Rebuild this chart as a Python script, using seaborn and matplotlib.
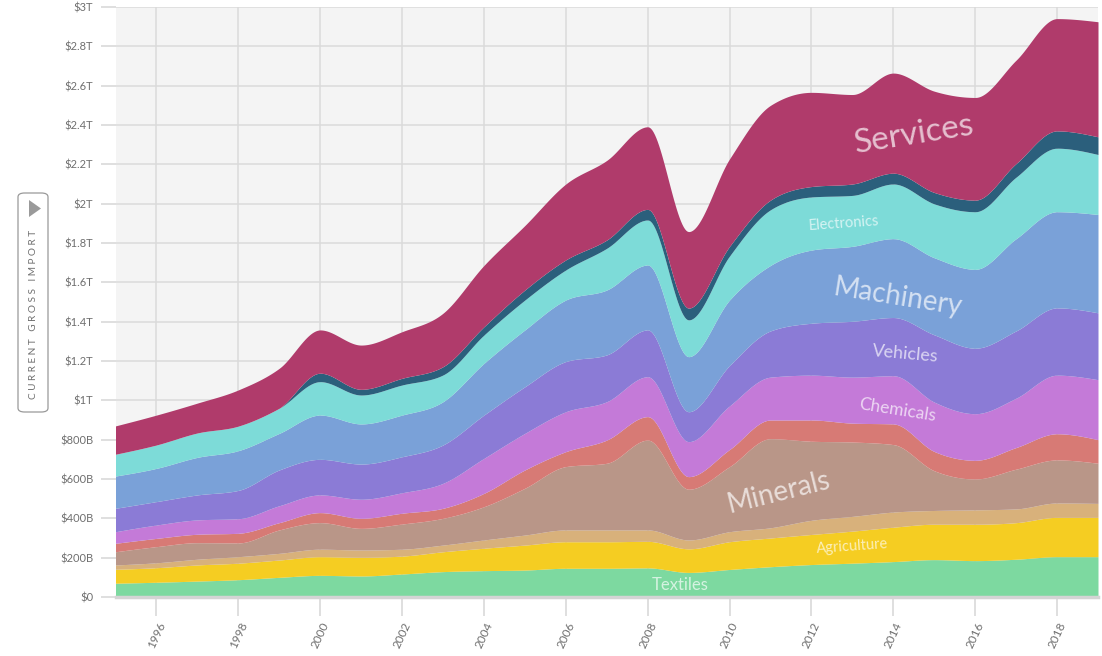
import numpy as np
import pandas as pd
import seaborn as sns
import matplotlib
matplotlib.use("Agg")
import matplotlib.pyplot as plt
from matplotlib.patches import FancyBboxPatch, Polygon

# yearly import values in billions of US$
years = list(range(1995, 2020))
textiles = [70, 75, 81, 88, 100, 110, 107, 117, 129, 134, 137, 146, 146, 148, 125,
            140, 154, 165, 172, 180, 190, 185, 192, 205, 205]
agriculture = [71, 74, 82, 84, 88, 95, 95, 91, 101, 114, 127, 135, 135, 135, 120,
               141, 146, 153, 163, 175, 180, 185, 186, 200, 200]
stone = [22, 25, 29, 33, 34, 38, 37, 35, 34, 42, 51, 60, 60, 58, 45,
         51, 52, 72, 75, 77, 70, 73, 70, 73, 71]
minerals = [67, 82, 84, 70, 119, 135, 110, 128, 136, 169, 238, 322, 339, 457, 258,
            331, 453, 402, 378, 343, 202, 157, 202, 219, 204]
metals = [43, 42, 43, 49, 37, 51, 51, 55, 51, 68, 93, 76, 118, 119, 64,
          87, 95, 108, 96, 105, 98, 95, 110, 133, 120]
chemicals = [59, 68, 73, 74, 86, 90, 97, 104, 127, 178, 186, 203, 195, 203, 178,
             222, 218, 228, 234, 245, 251, 237, 251, 298, 305]
vehicles = [119, 119, 127, 144, 182, 181, 179, 183, 195, 220, 237, 255, 238, 238, 152,
            205, 235, 264, 284, 296, 342, 333, 342, 342, 340]
machinery = [164, 169, 191, 202, 186, 225, 204, 212, 220, 263, 289, 313, 330, 330, 280,
             333, 333, 372, 381, 401, 392, 401, 469, 489, 500]
electronics = [111, 119, 124, 125, 128, 170, 147, 153, 136, 144, 152, 153, 212, 229, 187,
               224, 283, 270, 259, 278, 274, 293, 313, 323, 305]
other = [0, 0, 0, 0, 0, 43, 29, 34, 42, 42, 51, 51, 42, 54, 60,
         49, 49, 53, 58, 55, 58, 59, 69, 88, 90]
services = [144, 152, 152, 184, 203, 220, 225, 237, 272, 312, 328, 386, 405, 420, 389,
            445, 482, 479, 455, 509, 515, 522, 526, 571, 585]

sectors = ["Textiles", "Agriculture", "Stone", "Minerals", "Metals", "Chemicals",
           "Vehicles", "Machinery", "Electronics", "Other", "Services"]
sector_colors = ["#7dd9a0", "#f5cd22", "#d8b17b", "#b99688", "#d77a75", "#c47ad8",
                 "#8b7bd6", "#7aa1d8", "#7ddbd8", "#2b5f7c", "#b03b6b"]

y_ticks = [0, 200, 400, 600, 800, 1000, 1200, 1400, 1600, 1800, 2000, 2200, 2400,
           2600, 2800, 3000]
y_tick_labels = ["$0", "$200B", "$400B", "$600B", "$800B", "$1T", "$1.2T", "$1.4T",
                 "$1.6T", "$1.8T", "$2T", "$2.2T", "$2.4T", "$2.6T", "$2.8T", "$3T"]
x_ticks = list(range(1996, 2019, 2))

# in-area labels: name, year, value, rotation, size
area_labels = [
    ("Services", 2014.5, 2350, 9, 24),
    ("Electronics", 2012.8, 1897, 4, 10.5),
    ("Machinery", 2014.1, 1526, -9, 20),
    ("Vehicles", 2014.3, 1236, -5, 13),
    ("Chemicals", 2014.1, 951, -9, 12.5),
    ("Minerals", 2011.2, 529, 14, 20),
    ("Agriculture", 2013.0, 259, 4, 10.5),
    ("Textiles", 2008.8, 61, 0, 12),
]


def monotone_x(x, y, steps=30):
    """Smooth a series the way a monotone-x curve does (Hermite with limited slopes)."""
    x = np.asarray(x, float)
    y = np.asarray(y, float)
    h = np.diff(x)
    s = np.diff(y) / h
    t = np.zeros_like(y)
    for i in range(1, len(x) - 1):
        p = (s[i - 1] * h[i] + s[i] * h[i - 1]) / (h[i - 1] + h[i])
        t[i] = (np.sign(s[i - 1]) + np.sign(s[i])) * min(abs(s[i - 1]), abs(s[i]), 0.5 * abs(p))
    t[0] = (3 * s[0] - t[1]) / 2
    t[-1] = (3 * s[-1] - t[-2]) / 2
    xs, ys = [], []
    u = np.linspace(0, 1, steps, endpoint=False)
    for i in range(len(x) - 1):
        h00 = 2 * u**3 - 3 * u**2 + 1
        h10 = u**3 - 2 * u**2 + u
        h01 = -2 * u**3 + 3 * u**2
        h11 = u**3 - u**2
        xs.append(x[i] + u * h[i])
        ys.append(h00 * y[i] + h10 * h[i] * t[i] + h01 * y[i + 1] + h11 * h[i] * t[i + 1])
    xs.append([x[-1]])
    ys.append([y[-1]])
    return np.concatenate(xs), np.concatenate(ys)


df = pd.DataFrame({
    "Textiles": textiles, "Agriculture": agriculture, "Stone": stone,
    "Minerals": minerals, "Metals": metals, "Chemicals": chemicals,
    "Vehicles": vehicles, "Machinery": machinery, "Electronics": electronics,
    "Other": other, "Services": services,
}, index=years)
stacked = df[sectors].cumsum(axis=1)

sns.set_style("whitegrid", {
    "axes.facecolor": "#f4f4f4",
    "grid.color": "#dadada",
    "axes.edgecolor": "#d4d4d4",
})
plt.rcParams["font.family"] = ["Lato", "DejaVu Sans"]
palette = sns.color_palette(sector_colors)

fig = plt.figure(figsize=(11.02, 6.56), dpi=100, facecolor="white")
ax = fig.add_axes([115.5 / 1102, 59 / 656, (1098 - 115.5) / 1102, 590 / 656])

lower = None
for name, color in zip(sectors, palette):
    xs, upper = monotone_x(years, stacked[name].values)
    if lower is None:
        base = np.zeros_like(upper)
    else:
        base = lower
    upper = np.maximum(upper, base)
    ax.fill_between(xs, base, upper, color=color, linewidth=0, zorder=2)
    lower = upper

for name, lx, ly, rot, size in area_labels:
    ax.text(lx, ly, name, rotation=rot, fontsize=size, color="white", alpha=0.68,
            ha="center", va="center", rotation_mode="anchor", zorder=3)

ax.set_xlim(1995, 2019)
ax.set_ylim(0, 3000)
ax.set_xticks(x_ticks)
ax.set_xticklabels([str(v) for v in x_ticks], rotation=65, ha="center", va="top")
ax.set_yticks(y_ticks)
ax.set_yticklabels(y_tick_labels)
ax.grid(True, color="#dadada", linewidth=1.1, zorder=0)
ax.set_axisbelow(True)
ax.tick_params(axis="y", length=11, width=1.1, color="#d6d6d6", pad=5,
               labelsize=8, labelcolor="#6f6f6f", left=True)
ax.tick_params(axis="x", length=14, width=1.1, color="#d6d6d6", pad=3,
               labelsize=8.5, labelcolor="#6f6f6f", bottom=True)
for side in ("top", "right", "left"):
    ax.spines[side].set_visible(False)
ax.spines["bottom"].set_color("#d4d4d4")
ax.spines["bottom"].set_linewidth(2.5)
ax.set_xlabel("")
ax.set_ylabel("")

# the "current gross import" toggle button on the left
box = FancyBboxPatch((18 / 1102, (656 - 412) / 656), 30 / 1102, 219 / 656,
                     boxstyle="round,pad=0,rounding_size=0.006",
                     transform=fig.transFigure, facecolor="white",
                     edgecolor="#9a9a9a", linewidth=0.9)
fig.patches.append(box)
tri = Polygon([(29 / 1102, (656 - 200) / 656), (29 / 1102, (656 - 217) / 656),
               (41 / 1102, (656 - 208.5) / 656)], closed=True,
              transform=fig.transFigure, facecolor="#9a9a9a", edgecolor="none")
fig.patches.append(tri)
fig.text(33.5 / 1102, (656 - 314) / 656, " ".join("CURRENT GROSS IMPORT"),
         rotation=90, ha="center", va="center", fontsize=7.2, color="#6f6f6f")

fig.savefig("out.png", dpi=100, facecolor="white")
